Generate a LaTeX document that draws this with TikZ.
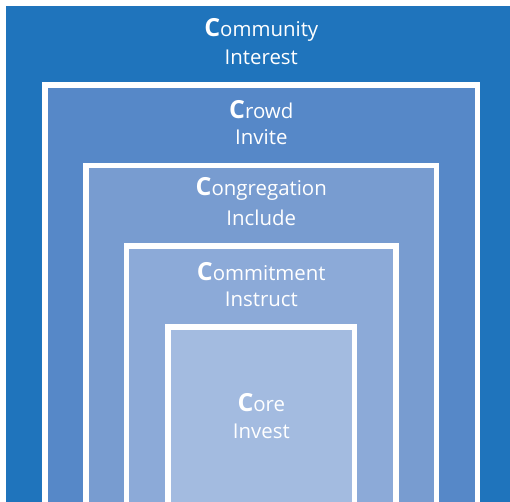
\documentclass[tikz,border=0pt]{standalone}
\usepackage{fontspec}
\setmainfont{Open Sans}
\definecolor{lvA}{RGB}{31,116,188}
\definecolor{lvB}{RGB}{86,136,200}
\definecolor{lvC}{RGB}{120,156,208}
\definecolor{lvD}{RGB}{140,170,216}
\definecolor{lvE}{RGB}{163,187,224}
\tikzset{
  lbl/.style={text=white, font=\fontsize{20.5}{28}\selectfont, align=center, anchor=base, inner sep=0pt},
}
\newcommand{\bigC}{{\fontsize{25}{28}\selectfont\bfseries C}}
\begin{document}
\begin{tikzpicture}[x=1bp,y=-1bp]
\fill[white] (0,0) rectangle (510,502);
\useasboundingbox (0,0) rectangle (510,502);
\def\cx{261.3}
\def\bw{5.2}
% outer
\fill[lvA] (6,6) rectangle (520,510);
% level 2
\fill[white] (\cx-219,82.5) rectangle (\cx+219,510);
\fill[lvB] (\cx-219+\bw,82.5+\bw) rectangle (\cx+219-\bw,510);
% level 3
\fill[white] (\cx-178,163.3) rectangle (\cx+178,510);
\fill[lvC] (\cx-178+\bw,163.3+\bw) rectangle (\cx+178-\bw,510);
% level 4
\fill[white] (\cx-137.2,243.3) rectangle (\cx+137.2,510);
\fill[lvD] (\cx-137.2+\bw,243.3+\bw) rectangle (\cx+137.2-\bw,510);
% core
\fill[white] (\cx-96,324.3) rectangle (\cx+96,510);
\fill[lvE] (\cx-96+\bw,324.3+\bw) rectangle (\cx+96-\bw,510);
% labels
\node[lbl] (t1a) at (\cx,36.7) {\bigC ommunity};
\node[lbl] (t1b) at (\cx,65) {Interest};
\node[lbl] (t2a) at (\cx,118.3) {\bigC rowd};
\node[lbl] (t2b) at (\cx,145) {Invite};
\node[lbl] (t3a) at (\cx,196) {\bigC ongregation};
\node[lbl] (t3b) at (\cx,225) {Include};
\node[lbl] (t4a) at (\cx,280) {\bigC ommitment};
\node[lbl] (t4b) at (\cx,306.7) {Instruct};
\node[lbl] (t5a) at (\cx,411.7) {\bigC ore};
\node[lbl] (t5b) at (\cx,438.3) {Invest};
\end{tikzpicture}
\end{document}
